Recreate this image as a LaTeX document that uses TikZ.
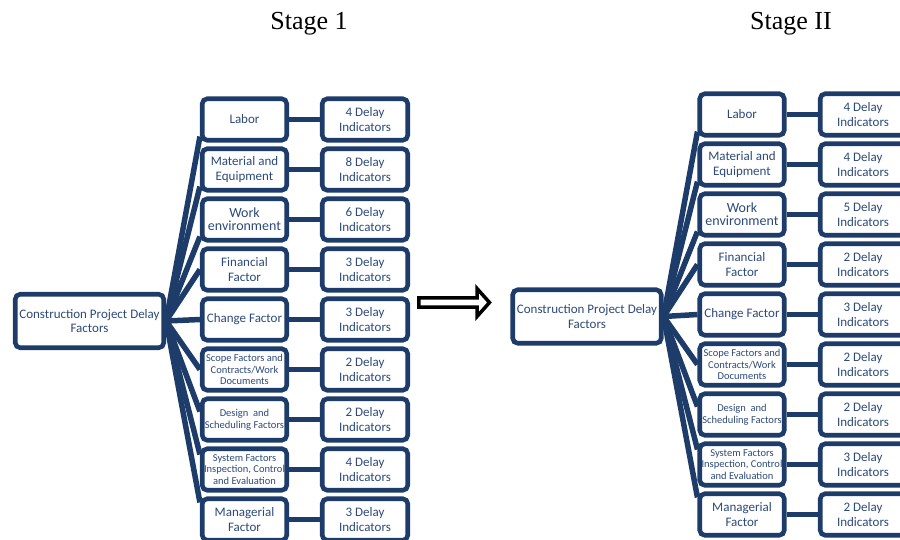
\documentclass[tikz,border=0pt]{standalone}
\usepackage{fontspec}
\newfontfamily\calfont{Carlito}
\newfontfamily\tnrfont{Liberation Serif}
\usetikzlibrary{backgrounds,calc}
\definecolor{navy}{RGB}{30,60,105}
\definecolor{txtblue}{RGB}{44,74,122}
\tikzset{
 box/.style={draw=navy, line width=4.6pt, rounded corners=5pt, fill=white, text=txtblue, align=center, inner sep=0pt, font=\calfont\fontsize{13}{14.5}\selectfont},
 fbox/.style={box, minimum width=84.5pt, minimum height=41.5pt},
 ibox/.style={box, minimum width=85.5pt, minimum height=41.5pt},
 rootbox/.style={box, minimum width=148.5pt, minimum height=53.5pt},
 smalltxt/.style={font=\calfont\fontsize{10.5}{11.5}\selectfont},
 worktxt/.style={font=\calfont\fontsize{14}{13}\selectfont},
 link/.style={draw=navy, line width=5.5pt},
 titletxt/.style={font=\tnrfont\fontsize{26}{30}\selectfont, text=black, anchor=base},
 bigarrow/.style={draw=black, fill=white, line width=3.5pt, line join=miter},
}
\begin{document}
\begin{tikzpicture}[x=1pt,y=-1pt]
\useasboundingbox (0,0) rectangle (900,539);
\clip (0,0) rectangle (900,539);

% titles
\node[titletxt] (t1) at (309,29) {Stage 1};
\node[titletxt] (t2) at (791,29) {Stage II};

% ---------- Stage 1 ----------
\node[rootbox] (r1) at (89.5,321) {Construction Project Delay\\Factors};
\node[fbox] (a1) at (244.5,119.5) {Labor};
\node[fbox] (a2) at (244.5,169.5) {Material and\\Equipment};
\node[fbox,worktxt] (a3) at (244.5,219.5) {Work\\environment};
\node[fbox] (a4) at (244.5,269.5) {Financial\\Factor};
\node[fbox] (a5) at (244.5,319.5) {Change Factor};
\node[fbox,smalltxt] (a6) at (244.5,369.5) {Scope Factors and\\Contracts/Work\\Documents};
\node[fbox,smalltxt] (a7) at (244.5,419.5) {Design~ and\\Scheduling Factors};
\node[fbox,smalltxt] (a8) at (244.5,469.5) {System Factors\\Inspection, Control\\and Evaluation};
\node[fbox] (a9) at (244.5,519.5) {Managerial\\Factor};

\node[ibox] (b1) at (365,119.5) {4 Delay\\Indicators};
\node[ibox] (b2) at (365,169.5) {8 Delay\\Indicators};
\node[ibox] (b3) at (365,219.5) {6 Delay\\Indicators};
\node[ibox] (b4) at (365,269.5) {3 Delay\\Indicators};
\node[ibox] (b5) at (365,319.5) {3 Delay\\Indicators};
\node[ibox] (b6) at (365,369.5) {2 Delay\\Indicators};
\node[ibox] (b7) at (365,419.5) {2 Delay\\Indicators};
\node[ibox] (b8) at (365,469.5) {4 Delay\\Indicators};
\node[ibox] (b9) at (365,519.5) {3 Delay\\Indicators};

% ---------- Stage 2 ----------
\node[rootbox] (r2) at (587,316.5) {Construction Project Delay\\Factors};
\node[fbox] (c1) at (742,114.5) {Labor};
\node[fbox] (c2) at (742,164.5) {Material and\\Equipment};
\node[fbox,worktxt] (c3) at (742,214.5) {Work\\environment};
\node[fbox] (c4) at (742,264.5) {Financial\\Factor};
\node[fbox] (c5) at (742,314.5) {Change Factor};
\node[fbox,smalltxt] (c6) at (742,364.5) {Scope Factors and\\Contracts/Work\\Documents};
\node[fbox,smalltxt] (c7) at (742,414.5) {Design~ and\\Scheduling Factors};
\node[fbox,smalltxt] (c8) at (742,464.5) {System Factors\\Inspection, Control\\and Evaluation};
\node[fbox] (c9) at (742,514.5) {Managerial\\Factor};

\node[ibox] (d1) at (863,114.5) {4 Delay\\Indicators};
\node[ibox] (d2) at (863,164.5) {4 Delay\\Indicators};
\node[ibox] (d3) at (863,214.5) {5 Delay\\Indicators};
\node[ibox] (d4) at (863,264.5) {2 Delay\\Indicators};
\node[ibox] (d5) at (863,314.5) {3 Delay\\Indicators};
\node[ibox] (d6) at (863,364.5) {2 Delay\\Indicators};
\node[ibox] (d7) at (863,414.5) {2 Delay\\Indicators};
\node[ibox] (d8) at (863,464.5) {3 Delay\\Indicators};
\node[ibox] (d9) at (863,514.5) {2 Delay\\Indicators};

% connectors
\begin{scope}[on background layer]
\foreach \r/\f/\g in {r1/a/b, r2/c/d}{
  \foreach \i in {1,...,9}{
    \draw[link] (\f\i.east) -- (\g\i.west);
  }
  \draw[link] (\r.east) -- ($(\f1.south west)+(0,-6)$);
  \draw[link] (\r.east) -- ($(\f2.south west)+(0,-6)$);
  \draw[link] (\r.east) -- ($(\f3.south west)+(0,-6)$);
  \draw[link] (\r.east) -- (\f4.west);
  \draw[link] (\r.east) -- (\f5.west);
  \draw[link] (\r.east) -- (\f6.west);
  \draw[link] (\r.east) -- ($(\f7.west)+(0,-8)$);
  \draw[link] (\r.east) -- ($(\f8.north west)+(0,8)$);
  \draw[link] (\r.east) -- ($(\f9.north west)+(0,6)$);
}
\end{scope}

% big arrow between stages
\draw[bigarrow] (418.75,297.8) -- (477,297.8) -- (477,288.5) -- (489.5,302.5) -- (477,316.5) -- (477,307.2) -- (418.75,307.2) -- cycle;
\end{tikzpicture}
\end{document}
